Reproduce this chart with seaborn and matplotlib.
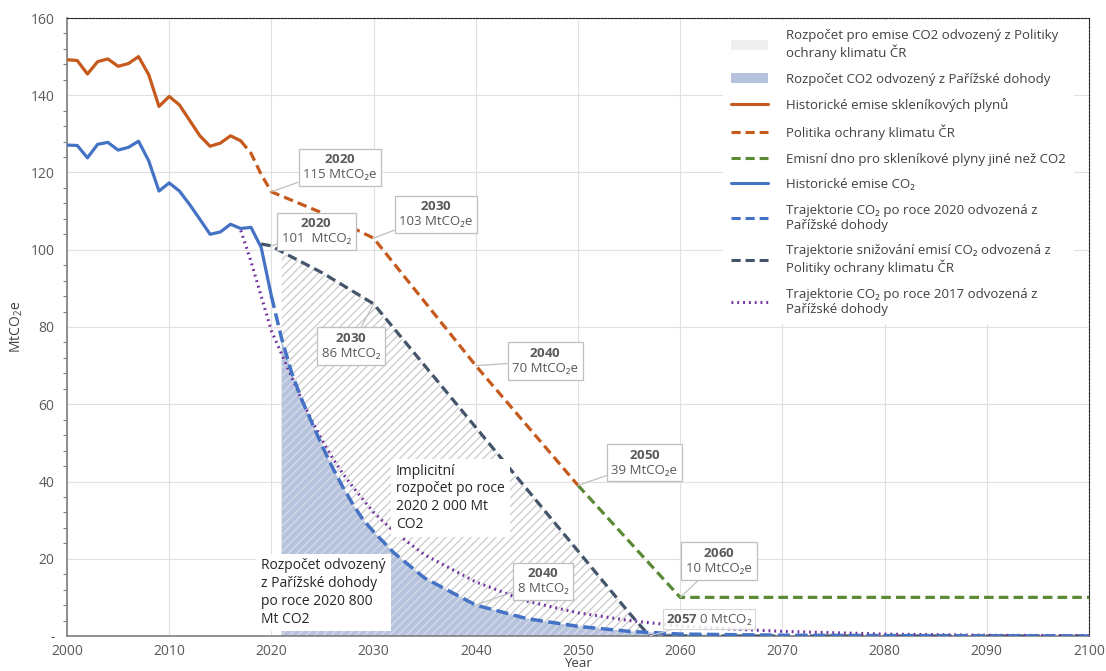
import numpy as np
import pandas as pd
import matplotlib.pyplot as plt
import seaborn as sns
from matplotlib.patches import Patch
from matplotlib.lines import Line2D
from matplotlib.ticker import MultipleLocator, FuncFormatter

# --- data ---
hist_ghg_years = list(range(2000, 2018))
hist_ghg = [149.2, 149.0, 145.5, 148.7, 149.4, 147.5, 148.2, 150.0, 145.3, 137.1,
            139.7, 137.5, 133.5, 129.5, 126.8, 127.6, 129.5, 128.2]

policy_ghg_years = [2017, 2018, 2019, 2020, 2025, 2030, 2040, 2050]
policy_ghg = [128.2, 125.0, 119.5, 115.0, 109.5, 103.0, 70.0, 39.0]

floor_years = [2050, 2060, 2070, 2080, 2090, 2100]
floor_vals = [39.0, 10.0, 10.0, 10.0, 10.0, 10.0]

hist_co2_years = list(range(2000, 2021))
hist_co2 = [127.1, 127.0, 123.8, 127.3, 127.8, 125.8, 126.5, 128.1, 123.0, 115.2,
            117.3, 115.2, 111.7, 107.9, 104.0, 104.6, 106.6, 105.5, 105.8, 100.6, 88.0]

paris20_years = [2020, 2021, 2022, 2023, 2024, 2025, 2026, 2027, 2028, 2029, 2030,
                 2032, 2035, 2040, 2045, 2050, 2055, 2060, 2070, 2080, 2090, 2100]
paris20 = [88.0, 77.0, 68.0, 61.0, 55.0, 49.0, 43.5, 38.5, 34.0, 30.0, 27.0,
           21.5, 15.0, 8.0, 4.5, 2.5, 1.2, 0.5, 0.2, 0.1, 0.05, 0.0]

policy_co2_years = [2019, 2020, 2021, 2025, 2030, 2035, 2040, 2045, 2050, 2055, 2057,
                    2060, 2070, 2080, 2090, 2100]
policy_co2 = [101.5, 101.0, 99.5, 94.0, 86.0, 70.0, 54.0, 38.0, 22.0, 6.0, 0.0,
              0.0, 0.0, 0.0, 0.0, 0.0]

paris17_years = [2017, 2018, 2019, 2020, 2021, 2022, 2023, 2024, 2025, 2026, 2027, 2028,
                 2030, 2032, 2035, 2040, 2045, 2050, 2055, 2060, 2065, 2070, 2080, 2090, 2100]
paris17 = [105.0, 97.0, 88.0, 79.0, 73.0, 67.0, 61.0, 55.5, 50.5, 46.0, 42.0, 38.5,
           32.0, 27.0, 21.0, 14.0, 9.0, 6.0, 4.0, 2.6, 1.8, 1.2, 0.5, 0.2, 0.1]

C_ORANGE = "#C65A1C"
C_GREEN = "#5A8A35"
C_BLUE = "#4472C4"
C_NAVY = "#44546A"
C_PURPLE = "#7030A0"

sns.set_style("whitegrid")
plt.rcParams['font.family'] = ['Open Sans', 'DejaVu Sans']
plt.rcParams['mathtext.fontset'] = 'custom'
plt.rcParams['mathtext.rm'] = 'Open Sans'
plt.rcParams['mathtext.bf'] = 'Open Sans:bold'

fig = plt.figure(figsize=(11.06, 6.71), dpi=100)
ax = fig.add_axes([67 / 1106, 1 - 636 / 671, (1089 - 67) / 1106, (636 - 18) / 671])

# budget areas
pol = pd.DataFrame({"year": policy_co2_years, "v": policy_co2})
pol = pol[pol.year >= 2021]
ax.fill_between(pol.year, 0, pol.v, facecolor="white", edgecolor="#cfcfcf",
                hatch="////", linewidth=0, zorder=1)
par = pd.DataFrame({"year": paris20_years, "v": paris20})
par = par[par.year >= 2021]
ax.fill_between(par.year, 0, par.v, facecolor="#b7c3dc", edgecolor="#d3dbea",
                hatch="////", linewidth=0, zorder=1.5)


def draw(xs, ys, color, dashes=None, lw=2.3, z=3):
    sns.lineplot(x=xs, y=ys, ax=ax, color=color, linewidth=lw, zorder=z)
    line = ax.lines[-1]
    if dashes is not None:
        line.set_dashes(dashes)
    return line


draw(hist_ghg_years, hist_ghg, C_ORANGE)
draw(policy_ghg_years, policy_ghg, C_ORANGE, dashes=(3, 1.6))
draw(floor_years, floor_vals, C_GREEN, dashes=(3, 1.6))
draw(hist_co2_years, hist_co2, C_BLUE)
draw(paris20_years, paris20, C_BLUE, dashes=(3.5, 1.6), lw=2.5, z=3.5)
draw(policy_co2_years, policy_co2, C_NAVY, dashes=(3, 1.6))
draw(paris17_years, paris17, C_PURPLE, dashes=(0.6, 1.3), lw=2.2, z=3.2)

ax.set_xlim(2000, 2100)
ax.set_ylim(0, 160)
ax.xaxis.set_major_locator(MultipleLocator(10))
ax.yaxis.set_major_locator(MultipleLocator(20))
ax.yaxis.set_minor_locator(MultipleLocator(4))
ax.yaxis.set_major_formatter(FuncFormatter(lambda v, p: "-" if v == 0 else f"{v:.0f}"))
ax.grid(True, which="major", color="#e0e0e0", linewidth=0.8)
ax.grid(False, which="minor")
ax.set_axisbelow(True)

for s in ["left", "bottom"]:
    ax.spines[s].set_color("#7f7f7f")
    ax.spines[s].set_linewidth(1.2)
for s in ["top", "right"]:
    ax.spines[s].set_color("#222222")
    ax.spines[s].set_linewidth(0.8)
    ax.spines[s].set_linestyle((0, (2, 1.2)))

ax.tick_params(axis="x", direction="inout", length=7, width=1, color="#7f7f7f",
               labelsize=10, labelcolor="#595959", pad=2.5)
ax.tick_params(axis="y", which="major", direction="out", length=4, width=1, color="#7f7f7f",
               labelsize=10, labelcolor="#595959", pad=5)
ax.tick_params(axis="y", which="minor", direction="out", length=3, width=0.8, color="#7f7f7f", left=True)

ax.set_xlabel("Year", fontsize=9.5, color="#404040", labelpad=-1.5)
ax.set_ylabel("MtCO$_2$e", fontsize=10, color="#404040", labelpad=4)


def callout(x, y, tx, ty, year, value):
    ax.annotate(f"$\\mathbf{{{year}}}$\n{value}", xy=(x, y), xytext=(tx, ty),
                ha="center", va="center", multialignment="center", fontsize=9.5,
                color="#595959",
                bbox=dict(boxstyle="square,pad=0.35", fc="white", ec="#bfbfbf", lw=0.9),
                arrowprops=dict(arrowstyle="-", color="#bfbfbf", lw=0.9,
                                shrinkA=0, shrinkB=0),
                zorder=6)


callout(2020, 115, 2026.7, 121.3, 2020, "115 MtCO₂e")
callout(2030, 103, 2036.1, 109.2, 2030, "103 MtCO₂e")
callout(2020, 101, 2024.4, 104.8, 2020, "101  MtCO₂")
callout(2030, 86, 2027.8, 75.1, 2030, "86 MtCO₂")
callout(2040, 70, 2046.8, 71.2, 2040, "70 MtCO₂e")
callout(2050, 39, 2056.5, 44.9, 2050, "39 MtCO₂e")
callout(2060, 10, 2063.8, 19.4, 2060, "10 MtCO₂e")
callout(2040, 8, 2046.6, 14.2, 2040, "8 MtCO₂")
ax.annotate("$\\mathbf{2057}$ 0 MtCO₂", xy=(2057, 0), xytext=(2062.8, 4.4),
            ha="center", va="center", fontsize=9.5, color="#595959",
            bbox=dict(boxstyle="square,pad=0.2", fc="white", ec="#d0d0d0", lw=0.8, alpha=0.85),
            arrowprops=dict(arrowstyle="-", color="#d0d0d0", lw=0.8, shrinkA=0, shrinkB=0),
            zorder=6)

ax.text(2032.2, 44.6, "Implicitní\nrozpočet po roce\n2020 2 000 Mt\nCO2", ha="left", va="top",
        fontsize=10, color="#262626", linespacing=1.25, zorder=5,
        bbox=dict(boxstyle="square,pad=0.35", fc="white", ec="none"))
ax.text(2019.0, 20.1, "Rozpočet odvozený\nz Pařížské dohody\npo roce 2020 800\nMt CO2", ha="left",
        va="top", fontsize=10, color="#262626", linespacing=1.25, zorder=5,
        bbox=dict(boxstyle="square,pad=0.35", fc="white", ec="none"))

handles = [
    Patch(facecolor="#efefef", edgecolor="none"),
    Patch(facecolor="#b7c3dc", edgecolor="none"),
    Line2D([], [], color=C_ORANGE, lw=2.2),
    Line2D([], [], color=C_ORANGE, lw=2.2, dashes=(3, 1.6)),
    Line2D([], [], color=C_GREEN, lw=2.2, dashes=(3, 1.6)),
    Line2D([], [], color=C_BLUE, lw=2.2),
    Line2D([], [], color=C_BLUE, lw=2.2, dashes=(3, 1.6)),
    Line2D([], [], color=C_NAVY, lw=2.2, dashes=(3, 1.6)),
    Line2D([], [], color=C_PURPLE, lw=2.2, dashes=(0.6, 1.3)),
]
labels = [
    "Rozpočet pro emise CO2 odvozený z Politiky\nochrany klimatu ČR",
    "Rozpočet CO2 odvozený z Pařížské dohody",
    "Historické emise skleníkových plynů",
    "Politika ochrany klimatu ČR",
    "Emisní dno pro skleníkové plyny jiné než CO2",
    "Historické emise CO₂",
    "Trajektorie CO₂ po roce 2020 odvozená z\nPařížské dohody",
    "Trajektorie snižování emisí CO₂ odvozená z\nPolitiky ochrany klimatu ČR",
    "Trajektorie CO₂ po roce 2017 odvozená z\nPařížské dohody",
]
leg = ax.legend(handles, labels, loc="upper right", bbox_to_anchor=(0.985, 0.995),
                borderaxespad=0, fontsize=9.5, frameon=True, facecolor="white",
                edgecolor="none", framealpha=1, handlelength=2.8, handletextpad=1.4,
                labelspacing=0.95, borderpad=0.6)
for t in leg.get_texts():
    t.set_color("#404040")
leg.set_zorder(7)

fig.savefig("out.png", dpi=100)
